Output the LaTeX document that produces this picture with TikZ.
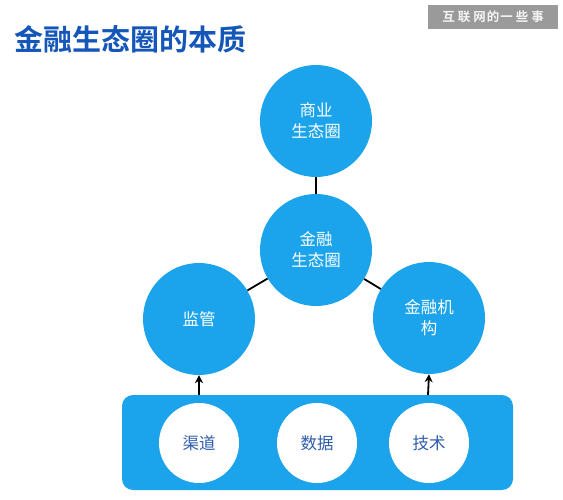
\documentclass[tikz,border=0pt]{standalone}
\usepackage{fontspec}
\newfontfamily\cjk{Noto Sans CJK SC}
\newfontfamily\cjkb{Noto Sans CJK SC Bold}
\usetikzlibrary{arrows.meta}
\definecolor{cblue}{HTML}{1BA3EC}
\definecolor{tblue}{HTML}{1457B8}
\definecolor{iblue}{HTML}{2F5DAE}
\definecolor{wgray}{HTML}{9A9A9A}
\begin{document}
\begin{tikzpicture}[x=1pt,y=-1pt,
  bigc/.style={circle,fill=cblue,minimum size=112pt,inner sep=0pt,text=white,
    font=\cjk\fontsize{16.5}{21}\selectfont,align=center},
  smallc/.style={circle,fill=white,minimum size=80pt,inner sep=0pt,text=iblue,
    font=\cjk\fontsize{16.5}{21}\selectfont},
  link/.style={draw=black,line width=1.8pt},
  up/.style={draw=black,line width=1.8pt,-{Stealth[length=8pt,width=8pt]}}]
\useasboundingbox (0,0) rectangle (563,500);
\fill[white] (0,0) rectangle (563,500);
% title
\node[anchor=west,text=tblue,font=\cjkb\fontsize{29}{33}\selectfont,inner sep=0pt] (title) at (14,39) {金融生态圈的本质};
% watermark
\node[fill=wgray,minimum width=130pt,minimum height=24pt,inner sep=0pt,text=white!92!gray,
  font=\cjkb\fontsize{12.5}{14}\selectfont] (wm) at (493,17) {互\hspace{3pt}联\hspace{3pt}网\hspace{1pt}的\hspace{1pt}一\hspace{3pt}些\hspace{3pt}事};
% circles
\node[bigc] (biz) at (316,121) {商业\\生态圈};
\node[bigc] (fin) at (316,250) {金融\\生态圈};
\node[bigc] (reg) at (199,319) {监管};
\node[bigc] (inst) at (429,318) {金融机\\构};
% base band
\node[fill=cblue,rounded corners=11pt,minimum width=391pt,minimum height=95pt,inner sep=0pt] (band) at (317.5,442.5) {};
\node[smallc] (chan) at (199,443) {渠道};
\node[smallc] (data) at (317,443) {数据};
\node[smallc] (tech) at (429,443) {技术};
% connectors
\draw[link] (biz) -- (fin);
\draw[link] (fin) -- (reg);
\draw[link] (fin) -- (inst);
\coordinate (a1) at (199,395);
\coordinate (a2) at (428,395);
\draw[up] (a1) -- (reg.south);
\draw[up] (a2) -- (inst.south);
\end{tikzpicture}
\end{document}
